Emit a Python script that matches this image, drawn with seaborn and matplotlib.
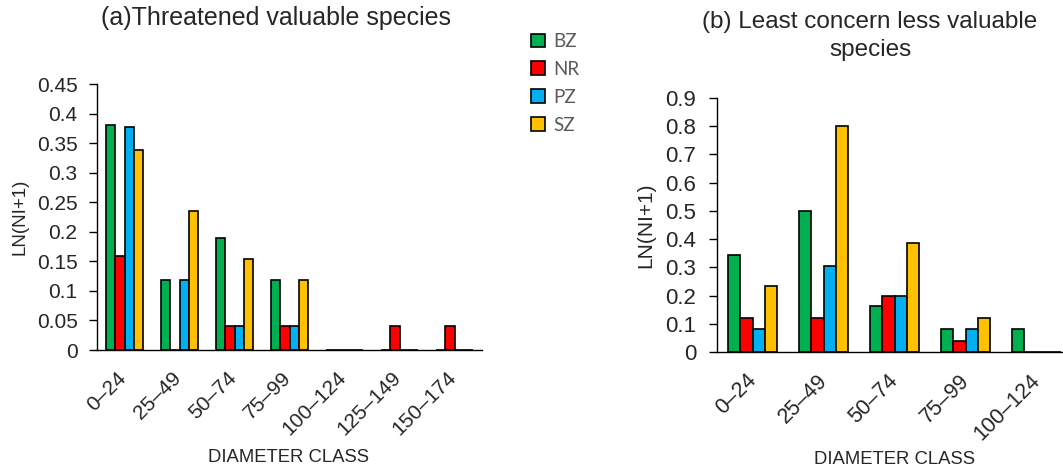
import matplotlib
matplotlib.use("Agg")
import matplotlib.pyplot as plt
import seaborn as sns
import pandas as pd
import numpy as np
from matplotlib.patches import Patch
from matplotlib.transforms import ScaledTranslation

sites = ["BZ", "NR", "PZ", "SZ"]
colors = ["#00B050", "#FF0000", "#00B0F0", "#FFC000"]

classes_a = ["0\u201324", "25\u201349", "50\u201374", "75\u201399", "100\u2013124", "125\u2013149", "150\u2013174"]
bz_a = [0.381, 0.118, 0.189, 0.118, 0, 0, 0]
nr_a = [0.159, 0, 0.040, 0.040, 0, 0.040, 0.040]
pz_a = [0.377, 0.118, 0.040, 0.040, 0, 0, 0]
sz_a = [0.338, 0.235, 0.154, 0.118, 0, 0, 0]

classes_b = ["0\u201324", "25\u201349", "50\u201374", "75\u201399", "100\u2013124"]
bz_b = [0.345, 0.500, 0.163, 0.080, 0.080]
nr_b = [0.120, 0.120, 0.200, 0.040, 0]
pz_b = [0.080, 0.303, 0.200, 0.080, 0]
sz_b = [0.235, 0.800, 0.386, 0.122, 0]

title_a = "(a)Threatened valuable species"
title_b = "(b) Least concern less valuable\nspecies"
ylabel = "LN(NI+1)"
xlabel = "DIAMETER CLASS"


def long_df(classes, series):
    rows = []
    for s, vals in zip(sites, series):
        for c, v in zip(classes, vals):
            rows.append({"cls": c, "site": s, "val": v})
    return pd.DataFrame(rows)


df_a = long_df(classes_a, [bz_a, nr_a, pz_a, sz_a])
df_b = long_df(classes_b, [bz_b, nr_b, pz_b, sz_b])

sns.set_style("white")
plt.rcParams["font.family"] = ["Liberation Sans", "DejaVu Sans"]

W, H = 1063, 470
fig = plt.figure(figsize=(W / 100, H / 100), dpi=100)

ax_a = fig.add_axes([97 / W, (H - 350) / H, 385 / W, 266 / H])
ax_b = fig.add_axes([717 / W, (H - 352) / H, 355 / W, 254 / H])

pal = dict(zip(sites, colors))


def style_axis(ax, df, classes, ymax, step, ytick_size, xtick_size, ypad, dx, dy):
    sns.barplot(data=df, x="cls", y="val", hue="site", order=classes, hue_order=sites,
                palette=pal, edgecolor="black", linewidth=1.2, width=0.68,
                saturation=1, ax=ax, legend=False)
    n = len(classes)
    ax.set_xlim(-0.5, n - 0.5)
    ax.set_ylim(0, ymax)
    yt = np.round(np.arange(0, ymax + step / 2, step), 3)
    ax.set_yticks(yt)
    ax.set_yticklabels(["%g" % v for v in yt], fontsize=ytick_size)
    ax.set_xticks(range(n))
    ax.set_xticks([i - 0.5 for i in range(n + 1)], minor=True)
    ax.tick_params(axis="x", which="major", length=0, pad=13)
    ax.tick_params(axis="x", which="minor", length=5.5, width=1, color="black", direction="out")
    ax.tick_params(axis="y", which="major", length=6, width=1, color="black", direction="out", left=True, pad=ypad)
    ax.set_xticklabels(classes, rotation=45, ha="right", rotation_mode="anchor", fontsize=xtick_size)
    off = ScaledTranslation(dx / 100, dy / 100, fig.dpi_scale_trans)
    for lab in ax.get_xticklabels():
        lab.set_transform(lab.get_transform() + off)
    for s in ["top", "right"]:
        ax.spines[s].set_visible(False)
    for s in ["left", "bottom"]:
        ax.spines[s].set_color("black")
        ax.spines[s].set_linewidth(1.0)
    ax.set_xlabel("")
    ax.set_ylabel("")


style_axis(ax_a, df_a, classes_a, 0.45, 0.05, 15, 15, 8, -8, 0)
style_axis(ax_b, df_b, classes_b, 0.9, 0.1, 16, 15.5, 9, -7, 0)

fig.text(276 / W, 1 - 18 / H, title_a, ha="center", va="center", fontsize=18)
fig.text(870 / W, 1 - 36 / H, title_b, ha="center", va="center", fontsize=17.5, linespacing=1.3)

fig.text(20 / W, 1 - 217 / H, ylabel, rotation=90, ha="center", va="center", fontsize=13.5)
fig.text(646 / W, 1 - 225 / H, ylabel, rotation=90, ha="center", va="center", fontsize=15)

fig.text(288 / W, 1 - 458 / H, xlabel, ha="center", va="center", fontsize=13.3)
fig.text(895 / W, 1 - 460 / H, xlabel, ha="center", va="center", fontsize=13.3)

handles = [Patch(facecolor=c, edgecolor="black", linewidth=1.2, label=s) for s, c in zip(sites, colors)]
leg = fig.legend(handles=handles, loc="upper left", bbox_to_anchor=(531 / W, 1 - 33 / H),
                 frameon=False, prop={"family": ["Lato", "DejaVu Sans"], "size": 13.5},
                 handlelength=0.75, handleheight=0.75, handletextpad=0.45, labelspacing=0.58,
                 borderaxespad=0, borderpad=0)
for t in leg.get_texts():
    t.set_color("#595959")

fig.savefig("out.png", dpi=100)
